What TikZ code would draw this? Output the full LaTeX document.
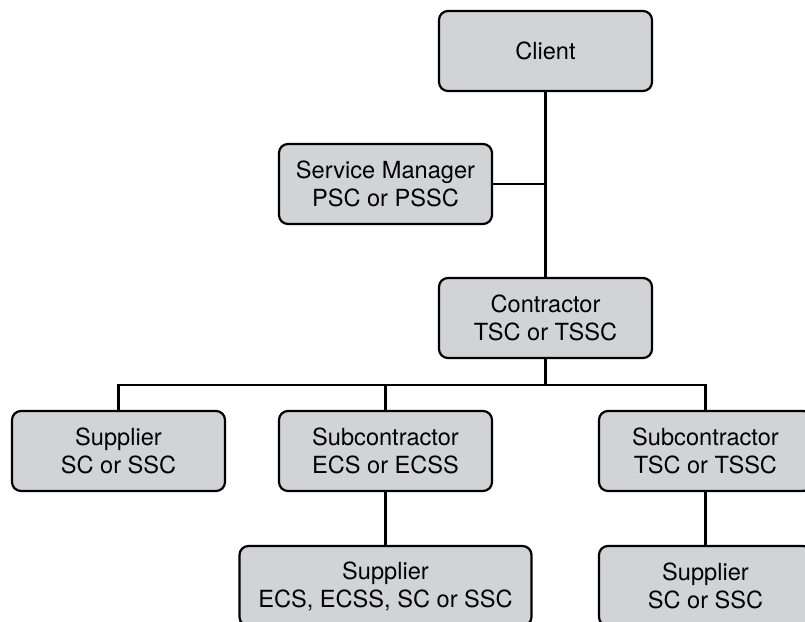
\documentclass[tikz,border=0pt]{standalone}
\usepackage{fontspec}
\setmainfont{TeX Gyre Heros}
\usetikzlibrary{positioning}
\definecolor{boxgray}{RGB}{209,211,212}

\begin{document}
\begin{tikzpicture}[node distance=66.5pt and 80pt, on grid, line width=1.1pt,
	party/.style={draw, fill=boxgray, rounded corners=4.5pt, minimum width=106.5pt, minimum height=40pt, align=center, font=\fontsize{11.8}{14}\selectfont},
	wideparty/.style={party, minimum width=146pt}]
	\path[use as bounding box, clip] (0,0) rectangle (402.5pt,-311pt);

	\node[party] (client) at (272.75pt,-25.5pt) {Client};
	\node[party] (manager) [below left=66.5pt and 80pt of client] {Service Manager\\PSC or PSSC};
	\node[party] (contractor) [below=133.5pt of client] {Contractor\\TSC or TSSC};
	\node[party] (subA) [below left=of contractor] {Subcontractor\\ECS or ECSS};
	\node[party] (supA) [left=133.5pt of subA] {Supplier\\SC or SSC};
	\node[party] (subB) [right=160pt of subA] {Subcontractor\\TSC or TSSC};
	\node[wideparty] (supB) [below=67.5pt of subA] {Supplier\\ECS, ECSS, SC or SSC};
	\node[party] (supC) [below=67.5pt of subB] {Supplier\\SC or SSC};
	\coordinate[below=13pt of contractor.south] (bus);

	\draw (client) -- (contractor);
	\draw (manager.east) -- (manager.east -| client);
	\draw (contractor) -- (bus);
	\draw (supA.north) |- (bus) -| (subB.north);
	\draw (subA.north) -- (subA.north |- bus);
	\draw (subA) -- (supB);
	\draw (subB) -- (supC);
\end{tikzpicture}
\end{document}
